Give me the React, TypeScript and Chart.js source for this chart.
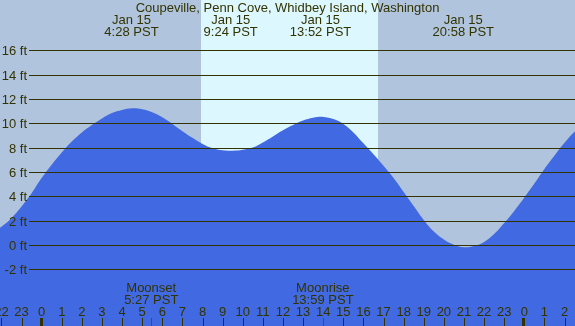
import React, { useEffect, useRef } from "react";
import { Chart, registerables } from "chart.js";

Chart.register(...registerables);

const TITLE = "Coupeville, Penn Cove, Whidbey Island, Washington";

// hours relative to midnight Jan 15 (negative = Jan 14)
const tideHours = [
  -2.5, -2.0, -1.5, -1.0, -0.5, 0.0, 0.5, 1.0, 1.5, 2.0, 2.5, 3.0, 3.5, 4.0, 4.5, 5.0,
  5.5, 6.0, 6.5, 7.0, 7.5, 8.0, 8.5, 9.0, 9.5, 10.0, 10.5, 11.0, 11.5, 12.0, 12.5, 13.0,
  13.5, 14.0, 14.5, 15.0, 15.5, 16.0, 16.5, 17.0, 17.5, 18.0, 18.5, 19.0, 19.5, 20.0,
  20.5, 21.0, 21.5, 22.0, 22.5, 23.0, 23.5, 24.0, 24.5, 25.0, 25.5, 26.0, 26.5, 27.0,
];
const tideFeet = [
  0.9, 1.5, 2.2, 3.15, 4.25, 5.5, 6.6, 7.6, 8.5, 9.25, 9.85, 10.4, 10.85, 11.1, 11.23, 11.15,
  10.9, 10.5, 9.95, 9.35, 8.8, 8.3, 7.95, 7.78, 7.75, 7.83, 8.0, 8.42, 8.92, 9.42, 9.85, 10.22,
  10.45, 10.52, 10.35, 9.95, 9.25, 8.35, 7.45, 6.5, 5.5, 4.35, 3.2, 2.05, 1.1, 0.45,
  0.02, -0.19, -0.08, 0.25, 0.9, 1.8, 2.8, 3.9, 5.05, 6.25, 7.35, 8.4, 9.3, 10.0,
];

const extremeHours = [4.467, 9.4, 13.867, 20.967];
const extremeDates = ["Jan 15", "Jan 15", "Jan 15", "Jan 15"];
const extremeLabels = ["4:28 PST", "9:24 PST", "13:52 PST", "20:58 PST"];

const moonHours = [5.45, 13.983];
const moonNames = ["Moonset", "Moonrise"];
const moonLabels = ["5:27 PST", "13:59 PST"];

const sunrise = 7.92;
const sunset = 16.72;

const yTicks = [-2, 0, 2, 4, 6, 8, 10, 12, 14, 16];
const hourTicks = [-2, -1, 0, 1, 2, 3, 4, 5, 6, 7, 8, 9, 10, 11, 12, 13, 14, 15, 16, 17, 18, 19, 20, 21, 22, 23, 24, 25, 26];

const X_MIN = -2.07;
const X_MAX = 26.52;
const Y_MIN = -6.66;
const Y_MAX = 20.13;

const FONT = '13px "Liberation Sans", Arial, sans-serif';
const INK = "#333300";

const decorPlugin = {
  id: "tideDecor",
  beforeDraw(chart: any) {
    const { ctx, width, height } = chart;
    const xs = chart.scales.x;
    ctx.save();
    ctx.fillStyle = "#b0c4de";
    ctx.fillRect(0, 0, width, height);
    const x0 = Math.round(xs.getPixelForValue(sunrise));
    const x1 = Math.round(xs.getPixelForValue(sunset));
    ctx.fillStyle = "#ddf7ff";
    ctx.fillRect(x0, 0, x1 - x0, height);
    ctx.restore();
  },
  afterDatasetsDraw(chart: any) {
    const { ctx, width, height } = chart;
    const xs = chart.scales.x;
    const ys = chart.scales.y;
    ctx.save();
    ctx.font = FONT;
    ctx.strokeStyle = INK;
    ctx.lineWidth = 1;
    ctx.fillStyle = INK;
    yTicks.forEach((v) => {
      const y = Math.round(ys.getPixelForValue(v)) + 0.5;
      ctx.beginPath();
      ctx.moveTo(29, y);
      ctx.lineTo(width, y);
      ctx.stroke();
      ctx.textAlign = "right";
      ctx.textBaseline = "alphabetic";
      ctx.fillText(v + " ft", 27, y + 4.5);
    });
    ctx.textAlign = "center";
    ctx.fillText(TITLE, width / 2, 12);
    extremeHours.forEach((h, i) => {
      const x = xs.getPixelForValue(h);
      ctx.fillText(extremeDates[i], x, 24);
      ctx.fillText(extremeLabels[i], x, 36);
    });
    moonHours.forEach((h, i) => {
      const x = xs.getPixelForValue(h);
      ctx.fillText(moonNames[i], x, 292);
      ctx.fillText(moonLabels[i], x, 304);
    });
    hourTicks.forEach((h) => {
      const x = xs.getPixelForValue(h);
      const lbl = String(((h % 24) + 24) % 24);
      ctx.fillStyle = INK;
      ctx.fillText(lbl, x, 316);
      if (h % 24 === 0) {
        ctx.fillRect(Math.round(x) - 2, 318, 3, height - 318);
      } else {
        ctx.fillRect(Math.round(x), 318, 1, height - 318);
      }
    });
    ctx.fillStyle = "#ff0000";
    moonHours.forEach((h) => {
      const x = xs.getPixelForValue(h);
      ctx.fillRect(Math.round(x), 318, 1, height - 318);
    });
    ctx.restore();
  },
};

export default function App() {
  const ref = useRef<HTMLCanvasElement | null>(null);
  useEffect(() => {
    document.body.style.margin = "0";
    const canvas = ref.current;
    if (!canvas) return;
    const chart = new Chart(canvas, {
      type: "line",
      data: {
        datasets: [
          {
            data: tideHours.map((h, i) => ({ x: h, y: tideFeet[i] })),
            borderWidth: 0,
            borderColor: "rgba(0,0,0,0)",
            backgroundColor: "#4169e1",
            fill: "start",
            pointRadius: 0,
            tension: 0.4,
          },
        ],
      },
      options: {
        responsive: false,
        animation: false,
        devicePixelRatio: 1,
        layout: { padding: 0 },
        plugins: { legend: { display: false }, tooltip: { enabled: false }, title: { display: false } },
        scales: {
          x: { type: "linear", min: X_MIN, max: X_MAX, display: false },
          y: { type: "linear", min: Y_MIN, max: Y_MAX, display: false },
        },
      },
      plugins: [decorPlugin],
    } as any);
    return () => chart.destroy();
  }, []);
  return (
    <div style={{ position: "fixed", left: 0, top: 0, width: 575, height: 326 }}>
      <canvas ref={ref} width={575} height={326} style={{ display: "block" }} />
    </div>
  );
}
